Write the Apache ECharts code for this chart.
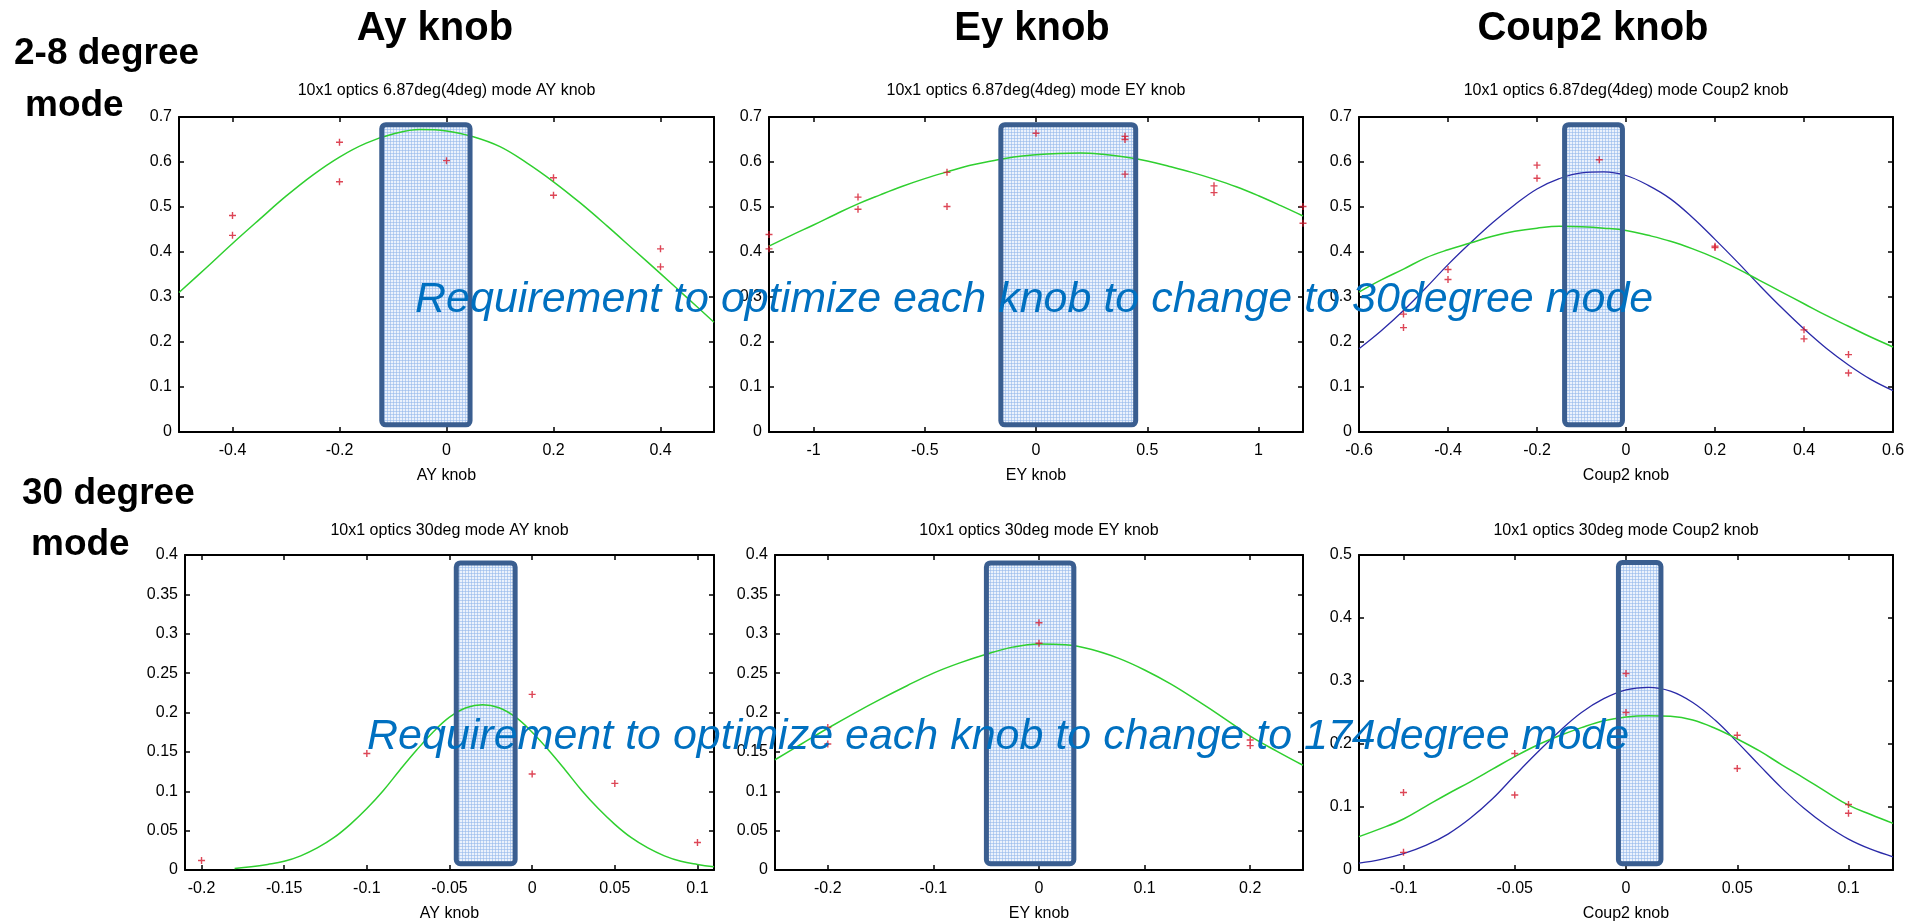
<!DOCTYPE html>
<html><head><meta charset="utf-8">
<script src="https://cdn.jsdelivr.net/npm/echarts@6/dist/echarts.min.js"></script>
<style>html,body{margin:0;padding:0;background:#fff}#c{width:1925px;height:923px}</style>
</head><body><div id="c"></div>
<script>
// ---------- DATA ----------
// Panel 1: 6.87deg mode, AY knob
const p1PtsX = [-0.4,-0.4,-0.2,-0.2,0,0.2,0.2,0.4,0.4];
const p1PtsY = [0.481,0.437,0.644,0.556,0.603,0.565,0.526,0.407,0.367];
const p1FitX = [-0.5,-0.45,-0.4,-0.35,-0.3,-0.25,-0.2,-0.15,-0.1,-0.05,0,0.05,0.1,0.15,0.2,0.25,0.3,0.35,0.4,0.45,0.5];
const p1Green = [0.310,0.364,0.419,0.472,0.524,0.571,0.611,0.642,0.662,0.672,0.669,0.656,0.634,0.598,0.556,0.509,0.458,0.405,0.352,0.298,0.244];
const p1Box = [-0.121,0.044,0.016,0.683];

// Panel 2: 6.87deg mode, EY knob
const p2PtsX = [-1.2,-1.2,-0.8,-0.8,-0.4,-0.4,0,0.4,0.4,0.4,0.8,0.8,1.2,1.2];
const p2PtsY = [0.439,0.407,0.522,0.495,0.577,0.501,0.664,0.657,0.650,0.573,0.547,0.532,0.501,0.464];
const p2FitX = [-1.2,-1.1,-1.0,-0.9,-0.8,-0.7,-0.6,-0.5,-0.4,-0.3,-0.2,-0.1,0,0.1,0.2,0.3,0.4,0.5,0.6,0.7,0.8,0.9,1.0,1.1,1.2];
const p2Green = [0.413,0.437,0.460,0.484,0.507,0.527,0.546,0.563,0.578,0.592,0.602,0.611,0.616,0.619,0.620,0.617,0.611,0.602,0.590,0.577,0.562,0.545,0.525,0.503,0.480];
const p2Box = [-0.158,0.448,0.016,0.683];

// Panel 3: 6.87deg mode, Coup2 knob
const p3PtsX = [-0.5,-0.5,-0.4,-0.4,-0.2,-0.2,-0.06,0.2,0.2,0.4,0.4,0.5,0.5];
const p3PtsY = [0.262,0.232,0.361,0.339,0.593,0.564,0.605,0.413,0.410,0.227,0.207,0.172,0.131];
const p3FitX = [-0.6,-0.55,-0.5,-0.45,-0.4,-0.35,-0.3,-0.25,-0.2,-0.15,-0.1,-0.05,0,0.05,0.1,0.15,0.2,0.25,0.3,0.35,0.4,0.45,0.5,0.55,0.6];
const p3Blue = [0.185,0.225,0.270,0.320,0.372,0.420,0.465,0.505,0.540,0.563,0.576,0.578,0.570,0.548,0.518,0.476,0.428,0.378,0.326,0.276,0.229,0.186,0.149,0.117,0.092];
const p3Green = [0.311,0.338,0.362,0.387,0.405,0.420,0.435,0.446,0.453,0.457,0.456,0.453,0.448,0.437,0.424,0.407,0.387,0.363,0.337,0.311,0.285,0.259,0.235,0.211,0.189];
const p3Box = [-0.138,-0.008,0.016,0.683];

// Panel 4: 30deg mode, AY knob
const p4PtsX = [-0.2,-0.1,0,0,0.05,0.1];
const p4PtsY = [0.012,0.148,0.223,0.122,0.110,0.035];
const p4FitX = [-0.18,-0.17,-0.16,-0.15,-0.14,-0.13,-0.12,-0.11,-0.1,-0.09,-0.08,-0.07,-0.06,-0.05,-0.04,-0.03,-0.02,-0.01,0,0.01,0.02,0.03,0.04,0.05,0.06,0.07,0.08,0.09,0.1,0.11];
const p4Green = [0.002,0.004,0.007,0.011,0.018,0.028,0.041,0.058,0.078,0.101,0.127,0.152,0.175,0.194,0.206,0.210,0.206,0.194,0.175,0.152,0.127,0.101,0.078,0.058,0.041,0.028,0.018,0.011,0.007,0.004];
const p4Box = [-0.0459,-0.0103,0.008,0.390];

// Panel 5: 30deg mode, EY knob
const p5PtsX = [-0.2,-0.2,0,0,0.2,0.2];
const p5PtsY = [0.181,0.160,0.314,0.288,0.165,0.158];
const p5FitX = [-0.25,-0.225,-0.2,-0.175,-0.15,-0.125,-0.1,-0.075,-0.05,-0.025,0,0.025,0.05,0.075,0.1,0.125,0.15,0.175,0.2,0.225,0.25];
const p5Green = [0.140,0.160,0.180,0.199,0.217,0.234,0.250,0.263,0.274,0.283,0.287,0.286,0.280,0.269,0.254,0.236,0.215,0.193,0.170,0.151,0.133];
const p5Box = [-0.0498,0.0330,0.008,0.390];

// Panel 6: 30deg mode, Coup2 knob
const p6PtsX = [-0.1,-0.1,-0.05,-0.05,0,0,0.05,0.05,0.1,0.1];
const p6PtsY = [0.123,0.028,0.185,0.119,0.312,0.250,0.214,0.161,0.104,0.090];
const p6FitX = [-0.12,-0.11,-0.1,-0.09,-0.08,-0.07,-0.06,-0.05,-0.04,-0.03,-0.02,-0.01,0,0.01,0.02,0.03,0.04,0.05,0.06,0.07,0.08,0.09,0.1,0.11,0.12];
const p6Blue = [0.011,0.017,0.026,0.039,0.057,0.082,0.113,0.150,0.186,0.220,0.250,0.272,0.286,0.290,0.284,0.266,0.238,0.203,0.166,0.130,0.098,0.071,0.049,0.033,0.021];
const p6Green = [0.053,0.066,0.081,0.101,0.121,0.140,0.160,0.180,0.198,0.213,0.226,0.237,0.243,0.245,0.244,0.238,0.225,0.208,0.189,0.167,0.146,0.124,0.103,0.088,0.074];
const p6Box = [-0.0034,0.0157,0.010,0.488];

// Texts
const colHeaders = ['Ay knob','Ey knob','Coup2 knob'];
const rowLabels = [['2-8 degree','mode'],['30 degree','mode']];
const subtitles = ['10x1 optics 6.87deg(4deg) mode AY knob','10x1 optics 6.87deg(4deg) mode EY knob','10x1 optics 6.87deg(4deg) mode Coup2 knob',
                   '10x1 optics 30deg mode AY knob','10x1 optics 30deg mode EY knob','10x1 optics 30deg mode Coup2 knob'];
const xNames = ['AY knob','EY knob','Coup2 knob','AY knob','EY knob','Coup2 knob'];
const overlayTexts = ['Requirement to optimize each knob to change to 30degree mode','Requirement to optimize each knob to change to 174degree mode'];

// Axis ranges [xmin,xmax,xstep,ymin,ymax,ystep]
const ranges = [
  [-0.5,0.5,0.2, 0,0.7,0.1],
  [-1.2,1.2,0.5, 0,0.7,0.1],
  [-0.6,0.6,0.2, 0,0.7,0.1],
  [-0.21,0.11,0.05, 0,0.4,0.05],
  [-0.25,0.25,0.1, 0,0.4,0.05],
  [-0.12,0.12,0.05, 0,0.5,0.1]
];

// ---------- LAYOUT / STYLE ----------
const grids = [
  {left:179, top:117, width:535, height:315},
  {left:769, top:117, width:534, height:315},
  {left:1359, top:117, width:534, height:315},
  {left:185, top:555, width:529, height:315},
  {left:775, top:555, width:528, height:315},
  {left:1359, top:555, width:534, height:315}
];
const FONT = "'Liberation Sans', Arial, sans-serif";
const GREEN = '#2fcf2f', BLUE = '#2a2aa8', RED = '#d4182c', BOXC = '#3a5e90';

const pc = document.createElement('canvas'); pc.width = 3; pc.height = 3;
const g2 = pc.getContext('2d');
g2.fillStyle = 'rgba(228,237,251,0.75)'; g2.fillRect(0,0,3,3);
g2.fillStyle = 'rgba(150,185,235,0.6)'; g2.fillRect(0,0,3,1); g2.fillRect(0,0,1,3);
const boxPattern = {type:'pattern', image: pc, repeat: 'repeat'};

const plusSym = 'path://M2.8,0h1.4v2.8h2.8v1.4h-2.8v2.8h-1.4v-2.8h-2.8v-1.4h2.8z';

function isMultiple(v, s){ const r = v / s; return Math.abs(r - Math.round(r)) < 1e-6; }

const xAxis = [], yAxis = [], series = [];
ranges.forEach((r, i) => {
  const [x0,x1,xs,y0,y1,ys] = r;
  const base = {type:'value', gridIndex:i, splitLine:{show:false},
    axisLine:{show:true, onZero:false, lineStyle:{color:'#000', width:2}},
    axisTick:{show:true, inside:true, length:5, lineStyle:{color:'#000', width:1.5}}};
  xAxis.push(Object.assign({}, base, {position:'bottom', min:x0, max:x1, minInterval:xs, maxInterval:xs,
    axisLabel:{color:'#000', fontSize:16, fontFamily:FONT, margin:11,
      showMinLabel:isMultiple(x0,xs), showMaxLabel:isMultiple(x1,xs)},
    name:xNames[i], nameLocation:'middle', nameGap:36,
    nameTextStyle:{color:'#000', fontSize:16, fontFamily:FONT}}));
  xAxis.push(Object.assign({}, base, {position:'top', min:x0, max:x1, minInterval:xs, maxInterval:xs, axisLabel:{show:false}}));
  yAxis.push(Object.assign({}, base, {position:'left', min:y0, max:y1, interval:ys,
    axisLabel:{color:'#000', fontSize:16, fontFamily:FONT, margin:7}}));
  yAxis.push(Object.assign({}, base, {position:'right', min:y0, max:y1, interval:ys, axisLabel:{show:false}}));
});

const panels = [
  {px:p1PtsX, py:p1PtsY, fx:p1FitX, green:p1Green, blue:null, box:p1Box},
  {px:p2PtsX, py:p2PtsY, fx:p2FitX, green:p2Green, blue:null, box:p2Box},
  {px:p3PtsX, py:p3PtsY, fx:p3FitX, green:p3Green, blue:p3Blue, box:p3Box},
  {px:p4PtsX, py:p4PtsY, fx:p4FitX, green:p4Green, blue:null, box:p4Box},
  {px:p5PtsX, py:p5PtsY, fx:p5FitX, green:p5Green, blue:null, box:p5Box},
  {px:p6PtsX, py:p6PtsY, fx:p6FitX, green:p6Green, blue:p6Blue, box:p6Box}
];

function boxRenderer(fill, stroke){
  return function(params, api){
    const a = api.coord([api.value(0), api.value(3)]);
    const b = api.coord([api.value(1), api.value(2)]);
    return {type:'rect', shape:{x:a[0], y:a[1], width:b[0]-a[0], height:b[1]-a[1], r:4},
      style:{fill:fill, stroke:stroke, lineWidth:stroke ? 5 : 0}};
  };
}

panels.forEach((p, i) => {
  const xi = i*2, yi = i*2;
  series.push({type:'custom', xAxisIndex:xi, yAxisIndex:yi, renderItem:boxRenderer(boxPattern, null),
    encode:{x:[0,1], y:[2,3]}, data:[p.box], z:1});
  if (p.blue) series.push({type:'line', xAxisIndex:xi, yAxisIndex:yi, data:p.fx.map((x,k)=>[x,p.blue[k]]),
    showSymbol:false, smooth:0.4, lineStyle:{color:BLUE, width:1.3}, z:2});
  series.push({type:'line', xAxisIndex:xi, yAxisIndex:yi, data:p.fx.map((x,k)=>[x,p.green[k]]),
    showSymbol:false, smooth:0.4, lineStyle:{color:GREEN, width:1.5}, z:2});
  series.push({type:'scatter', xAxisIndex:xi, yAxisIndex:yi, data:p.px.map((x,k)=>[x,p.py[k]]),
    symbol:plusSym, symbolSize:7, itemStyle:{color:RED}, z:3});
  series.push({type:'custom', xAxisIndex:xi, yAxisIndex:yi, renderItem:boxRenderer('none', BOXC),
    encode:{x:[0,1], y:[2,3]}, data:[p.box], z:4});
});

// ---------- TEXT GRAPHICS ----------
const graphic = [];
const headerX = [435, 1032, 1593];
colHeaders.forEach((t,i) => graphic.push({type:'text', x:headerX[i], y:29, z:50,
  style:{text:t, font:"bold 40px " + FONT, fill:'#000', textAlign:'center', textVerticalAlign:'middle'}}));
const rowPos = [[[14,54],[25,106]],[[22,494],[31,545]]];
rowLabels.forEach((lines,r) => lines.forEach((t,k) => graphic.push({type:'text', x:rowPos[r][k][0], y:rowPos[r][k][1], z:50,
  style:{text:t, font:"bold 37px " + FONT, fill:'#000', textAlign:'left', textVerticalAlign:'middle'}})));
subtitles.forEach((t,i) => {
  const gr = grids[i];
  graphic.push({type:'text', x:gr.left + gr.width/2, y:(i<3?91:531), z:50,
    style:{text:t, font:"16px " + FONT, fill:'#000', textAlign:'center', textVerticalAlign:'middle'}});
});
const overPos = [[415,300],[367,737]];
overlayTexts.forEach((t,i) => graphic.push({type:'text', x:overPos[i][0], y:overPos[i][1], z:100,
  style:{text:t, font:"italic 43px " + FONT, fill:'#0070C0', textAlign:'left', textVerticalAlign:'middle'}}));

const chart = echarts.init(document.getElementById('c'), null, {renderer:'canvas'});
chart.setOption({
  animation:false,
  backgroundColor:'#fff',
  grid: grids.map(g => Object.assign({containLabel:false}, g)),
  xAxis, yAxis, series, graphic
});
</script></body></html>
